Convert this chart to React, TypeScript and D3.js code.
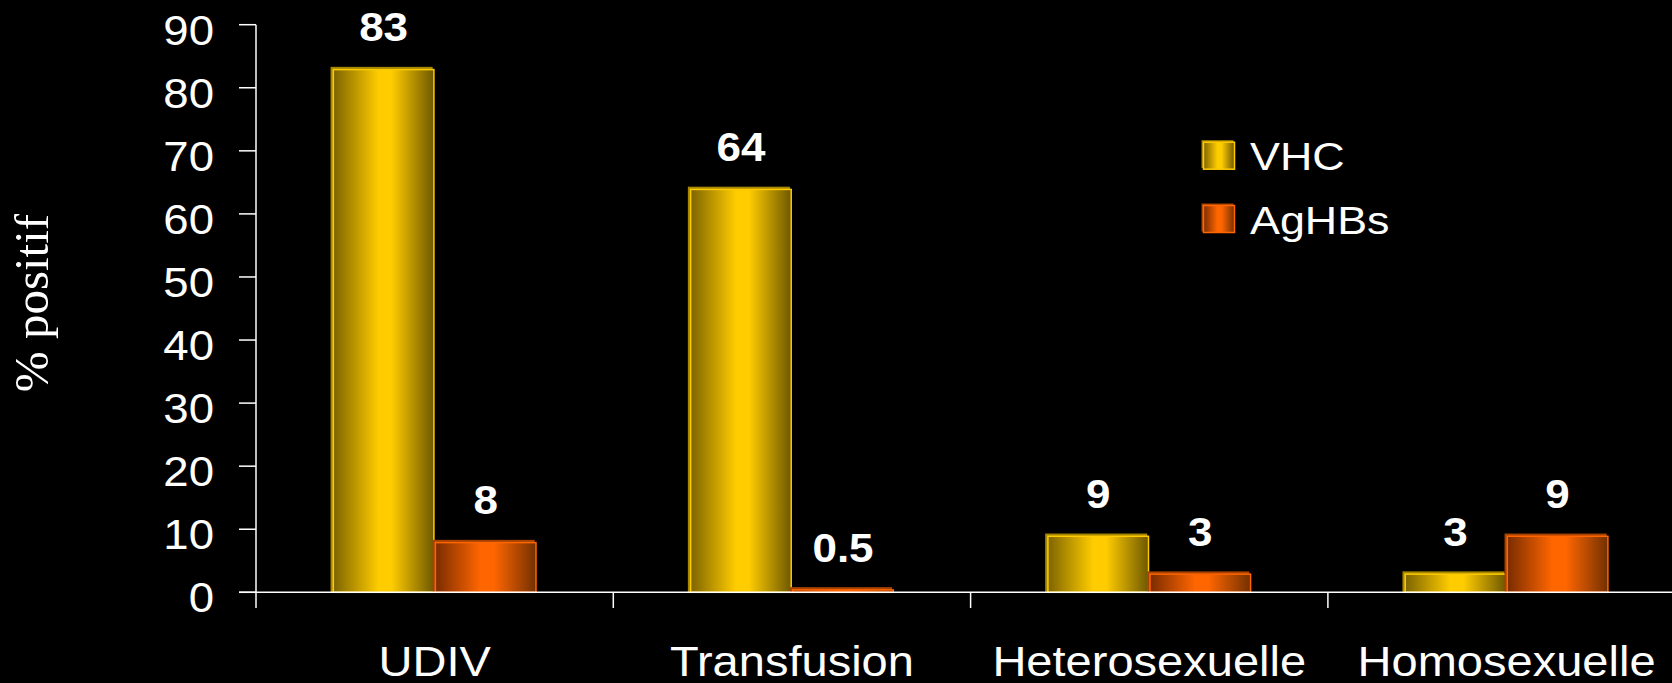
import React from "react";
import * as d3 from "d3";

// Positivity rates (%) by exposure route
const categories = ["UDIV", "Transfusion", "Heterosexuelle", "Homosexuelle"];
const seriesNames = ["VHC", "AgHBs"];
const vhcValues = [83, 64, 9, 3];
const aghbsValues = [8, 0.5, 3, 9];
const valueLabels = [
  ["83", "64", "9", "3"],
  ["8", "0.5", "3", "9"],
];
const yTicks = [0, 10, 20, 30, 40, 50, 60, 70, 80, 90];
const yTitle = "% positif";

const W = 1672;
const H = 683;
const SANS = "'Liberation Sans', Arial, Helvetica, sans-serif";
const SERIF = "'Liberation Serif', 'Times New Roman', serif";
const SX = 1.12; // horizontal stretch of the slide lettering

const palette = [
  { id: "gVhc", dark0: "#7d6400", peak: "#ffcc00", dark1: "#6e5800", stroke: "#ffcc00", shadow: "#a88700" },
  { id: "gHbs", dark0: "#7a2c00", peak: "#ff6600", dark1: "#733000", stroke: "#ff6600", shadow: "#a84200" },
];

export default function App() {
  const axisLeft = 256;
  const band = 357.3;
  const x0 = d3
    .scaleBand<string>()
    .domain(categories)
    .range([axisLeft, axisLeft + band * categories.length])
    .paddingInner(0)
    .paddingOuter(0);
  const x1 = d3
    .scaleBand<string>()
    .domain(seriesNames)
    .range([0, x0.bandwidth()])
    .paddingInner(0)
    .paddingOuter(0.75);
  const y = d3.scaleLinear().domain([0, 90]).range([592.3, 24.7]);

  const series = [vhcValues, aghbsValues];
  const baseY = y(0);

  return (
    <svg
      width={W}
      height={H}
      style={{ position: "absolute", left: 0, top: 0, background: "#000" }}
    >
      <defs>
        {palette.map((p) => (
          <linearGradient key={p.id} id={p.id} x1="0" x2="1" y1="0" y2="0">
            <stop offset="0%" stopColor={p.dark0} />
            <stop offset="45%" stopColor={p.peak} />
            <stop offset="58%" stopColor={p.peak} />
            <stop offset="100%" stopColor={p.dark1} />
          </linearGradient>
        ))}
      </defs>
      <rect x={0} y={0} width={W} height={H} fill="#000" />

      {/* Y axis title */}
      <text
        transform={`translate(48,303) rotate(-90)`}
        textAnchor="middle"
        fontFamily={SERIF}
        fontSize={49}
        fill="#fff"
      >
        {yTitle}
      </text>

      {/* Y axis ticks and labels */}
      {yTicks.map((t) => (
        <g key={t}>
          <line x1={239} x2={axisLeft} y1={y(t)} y2={y(t)} stroke="#fff" strokeWidth={1.5} />
          <text
            transform={`translate(214,${y(t) + 20}) scale(1.06,1)`}
            textAnchor="end"
            fontFamily={SANS}
            fontSize={43}
            fill="#fff"
          >
            {t}
          </text>
        </g>
      ))}

      {/* Bars */}
      {categories.map((c, ci) => (
        <g key={c}>
          {series.map((vals, si) => {
            const p = palette[si];
            const bx = (x0(c) as number) + (x1(seriesNames[si]) as number);
            const bw = x1.bandwidth();
            const top = y(vals[ci]);
            const h = baseY - top;
            return (
              <g key={si}>
                <rect x={bx - 2} y={top - 2} width={bw} height={h + 2} fill={p.shadow} />
                <rect
                  x={bx + 0.75}
                  y={top + 0.75}
                  width={bw - 1.5}
                  height={Math.max(h - 0.75, 0.5)}
                  fill={`url(#${p.id})`}
                  stroke={p.stroke}
                  strokeWidth={1.5}
                />
                <text
                  transform={`translate(${bx + bw / 2},${top - 27.5}) scale(1.1,1)`}
                  textAnchor="middle"
                  fontFamily={SANS}
                  fontWeight="bold"
                  fontSize={40}
                  fill="#fff"
                >
                  {valueLabels[si][ci]}
                </text>
              </g>
            );
          })}
          <text
            transform={`translate(${(x0(c) as number) + x0.bandwidth() / 2},676) scale(${SX},1)`}
            textAnchor="middle"
            fontFamily={SANS}
            fontSize={42}
            fill="#fff"
          >
            {c}
          </text>
        </g>
      ))}

      {/* Axes lines */}
      <line x1={axisLeft} x2={axisLeft} y1={y(90)} y2={608} stroke="#fff" strokeWidth={1.5} />
      <line x1={239} x2={W} y1={baseY} y2={baseY} stroke="#fff" strokeWidth={1.5} />
      {categories.slice(1).map((c) => (
        <line
          key={c}
          x1={x0(c) as number}
          x2={x0(c) as number}
          y1={baseY}
          y2={608}
          stroke="#fff"
          strokeWidth={1.5}
        />
      ))}

      {/* Legend */}
      {seriesNames.map((s, i) => {
        const p = palette[i];
        const ly = 141.7 + i * 63.3;
        return (
          <g key={s}>
            <rect x={1201.5} y={ly - 1.5} width={32} height={28} fill={p.shadow} />
            <rect
              x={1203.5}
              y={ly + 0.5}
              width={31}
              height={27}
              fill={`url(#${p.id})`}
              stroke={p.stroke}
              strokeWidth={1.5}
            />
            <text
              transform={`translate(1250,${ly + 28.5}) scale(1.18,1)`}
              fontFamily={SANS}
              fontSize={38}
              fill="#fff"
            >
              {s}
            </text>
          </g>
        );
      })}
    </svg>
  );
}
